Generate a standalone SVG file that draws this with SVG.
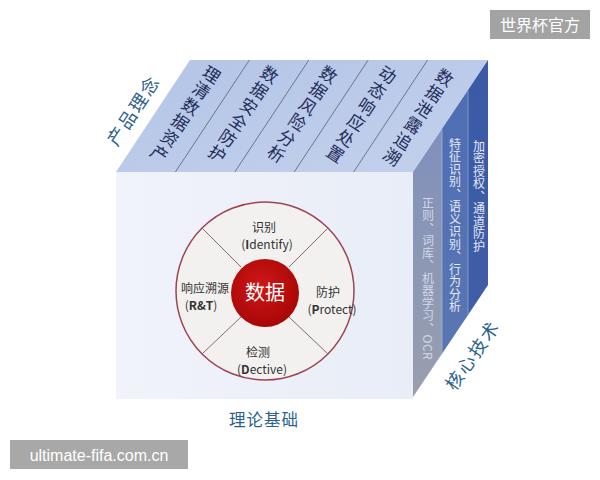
<svg xmlns="http://www.w3.org/2000/svg" width="600" height="480" viewBox="0 0 600 480">
<defs>
<style>
.cjk{font-family:"Noto Sans CJK SC","Liberation Sans",sans-serif;}
.top{font-size:17px;fill:#1e2b5a;letter-spacing:2px;writing-mode:vertical-rl;}
.side{font-size:12px;writing-mode:vertical-rl;letter-spacing:0.5px;}
.lab{font-size:18px;fill:#2b5f8e;letter-spacing:2px;}
.seg{font-size:12px;fill:#333;}
.div{stroke:#5a5f70;stroke-width:0.8;}
.wedge{stroke:#8a6a6a;stroke-width:1;}
.wm{fill:#fff;font-size:16px;}
</style>
<linearGradient id="gTop" x1="0" y1="0" x2="1" y2="1">
<stop offset="0" stop-color="#b3c4e6"/>
<stop offset="1" stop-color="#c3d1ec"/>
</linearGradient>
<linearGradient id="gFront" x1="0" y1="0" x2="1" y2="0">
<stop offset="0" stop-color="#f0f3fa"/>
<stop offset="1" stop-color="#e9edf7"/>
</linearGradient>
<linearGradient id="gS1" x1="0" y1="0" x2="0" y2="1">
<stop offset="0" stop-color="#7f90bc"/>
<stop offset="1" stop-color="#9a9fae"/>
</linearGradient>
<linearGradient id="gS2" x1="0" y1="0" x2="0" y2="1">
<stop offset="0" stop-color="#4e6eb4"/>
<stop offset="1" stop-color="#5a76b2"/>
</linearGradient>
<linearGradient id="gS3" x1="0" y1="0" x2="0" y2="1">
<stop offset="0" stop-color="#3a5aa6"/>
<stop offset="1" stop-color="#3f5ea6"/>
</linearGradient>
<radialGradient id="gRed" cx="0.45" cy="0.4" r="0.6">
<stop offset="0" stop-color="#d01818"/>
<stop offset="1" stop-color="#a80606"/>
</radialGradient>
</defs>
<rect width="600" height="480" fill="#ffffff"/>

<g id="top-face">
<polygon points="116,172 190,60 488,60 413,172" fill="url(#gTop)"/>
<line class="div" x1="175.4" y1="172" x2="249.4" y2="60"/>
<line class="div" x1="234.8" y1="172" x2="308.8" y2="60"/>
<line class="div" x1="294.2" y1="172" x2="368.2" y2="60"/>
<line class="div" x1="353.6" y1="172" x2="427.6" y2="60"/>
<text class="cjk top" text-anchor="middle" transform="translate(185,115) rotate(33.5)">理清数据资产</text>
<text class="cjk top" text-anchor="middle" transform="translate(243,115) rotate(33.5)">数据安全防护</text>
<text class="cjk top" text-anchor="middle" transform="translate(302,115) rotate(33.5)">数据风险分析</text>
<text class="cjk top" text-anchor="middle" transform="translate(361,115) rotate(33.5)">动态响应处置</text>
<text class="cjk top" text-anchor="middle" transform="translate(418,118) rotate(33.5)">数据泄露追溯</text>
</g>

<g id="right-face">
<polygon points="413,172 442,128.7 442,353.7 413,397" fill="url(#gS1)"/>
<polygon points="442,128.7 468,89.9 468,314.9 442,353.7" fill="url(#gS2)"/>
<polygon points="468,89.9 488,60 488,285 468,314.9" fill="url(#gS3)"/>
<line x1="442" y1="128.7" x2="442" y2="353.7" stroke="#9fb2d8" stroke-width="0.8"/>
<line x1="468" y1="89.9" x2="468" y2="314.9" stroke="#8fa4d0" stroke-width="0.8"/>
<text class="cjk side" x="428" y="197" fill="#d3d9e6">正则、词库、机器学习、OCR</text>
<text class="cjk side" x="455" y="138" fill="#e4eaf6">特征识别、语义识别、行为分析</text>
<text class="cjk side" x="479" y="140" fill="#e4eaf6">加密授权、通道防护</text>
</g>

<g id="front-face">
<rect x="116" y="172" width="297" height="227" fill="url(#gFront)"/>
</g>

<g id="cycle">
<circle cx="265" cy="291" r="89" fill="#f3f1ef" stroke="#9c4452" stroke-width="1.5"/>
<line class="wedge" x1="202" y1="228" x2="241" y2="267"/>
<line class="wedge" x1="328" y1="228" x2="289" y2="267"/>
<line class="wedge" x1="202" y1="354" x2="241" y2="317"/>
<line class="wedge" x1="328" y1="354" x2="289" y2="317"/>
<circle cx="265" cy="293" r="34" fill="url(#gRed)"/>
<text class="cjk" x="265" y="300" text-anchor="middle" font-size="20" fill="#ffffff">数据</text>
</g>

<g id="seg-identify">
<text class="cjk seg" x="264" y="232" text-anchor="middle">识别</text>
<text class="cjk seg" x="267" y="249" text-anchor="middle">(<tspan font-weight="bold">I</tspan>dentify)</text>
</g>
<g id="seg-protect">
<text class="cjk seg" x="328" y="297" text-anchor="middle">防护</text>
<text class="cjk seg" x="332" y="314" text-anchor="middle">(<tspan font-weight="bold">P</tspan>rotect)</text>
</g>
<g id="seg-detect">
<text class="cjk seg" x="258" y="357" text-anchor="middle">检测</text>
<text class="cjk seg" x="262" y="374" text-anchor="middle">(<tspan font-weight="bold">D</tspan>ective)</text>
</g>
<g id="seg-response">
<text class="cjk seg" x="205" y="293" text-anchor="middle">响应溯源</text>
<text class="cjk seg" x="201" y="310" text-anchor="middle">(<tspan font-weight="bold">R&amp;T</tspan>)</text>
</g>

<g id="labels">
<text class="cjk lab" text-anchor="middle" transform="translate(139,114) rotate(-56.5)">产品理念</text>
<text class="cjk lab" text-anchor="middle" transform="translate(478,359) rotate(-55)">核心技术</text>
<text class="cjk" x="264" y="426" text-anchor="middle" font-size="16.5" fill="#2b5f8e" letter-spacing="1">理论基础</text>
</g>

<g id="watermarks">
<rect x="490" y="10" width="100" height="29" fill="#a3a3a3"/>
<text class="cjk wm" x="540" y="31" text-anchor="middle">世界杯官方</text>
<rect x="10" y="440" width="178" height="29" fill="#a8a8a8"/>
<text class="wm" x="99" y="461" text-anchor="middle" font-family="Liberation Sans, sans-serif" font-size="17">ultimate-fifa.com.cn</text>
</g>
</svg>
